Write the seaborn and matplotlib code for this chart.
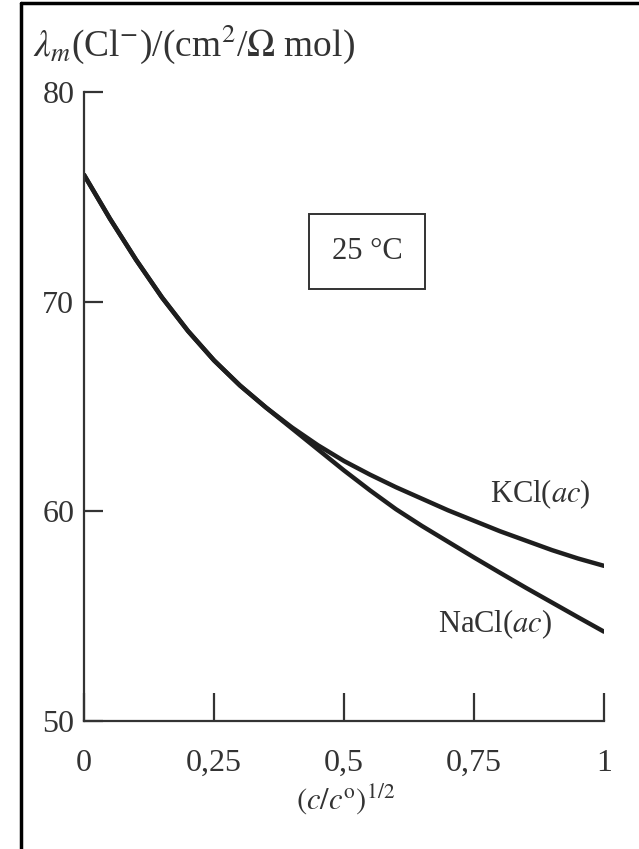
import numpy as np
import pandas as pd
import matplotlib
matplotlib.use("Agg")
import matplotlib.pyplot as plt
import seaborn as sns
from matplotlib.lines import Line2D

# values
conc_sqrt = [0.0, 0.05, 0.1, 0.15, 0.2, 0.25, 0.3, 0.35, 0.4, 0.45,
             0.5, 0.55, 0.6, 0.65, 0.7, 0.75, 0.8, 0.85, 0.9, 0.95, 1.0]
lambda_kcl = [76.05, 73.95, 72.0, 70.2, 68.6, 67.2, 66.0, 64.95, 64.0, 63.15,
              62.4, 61.75, 61.15, 60.6, 60.05, 59.55, 59.05, 58.6, 58.15, 57.75, 57.4]
lambda_nacl = [76.05, 73.95, 72.0, 70.2, 68.6, 67.2, 66.0, 64.95, 63.95, 62.95,
               61.95, 61.0, 60.1, 59.3, 58.55, 57.8, 57.07, 56.35, 55.65, 54.95, 54.26]
x_ticks = [0, 0.25, 0.5, 0.75, 1]
x_tick_labels = ["0", "0,25", "0,5", "0,75", "1"]
y_ticks = [50, 60, 70, 80]

df = pd.DataFrame({
    "x": conc_sqrt * 2,
    "lam": lambda_kcl + lambda_nacl,
    "sal": ["KCl"] * len(conc_sqrt) + ["NaCl"] * len(conc_sqrt),
})

sns.set_theme(style="white")
plt.rcParams["font.family"] = ["Liberation Serif", "DejaVu Serif"]
plt.rcParams["mathtext.fontset"] = "stix"

fig = plt.figure(figsize=(6.39, 8.49), dpi=100)
ax = fig.add_axes([0.1315, 0.1508, 0.8137, 0.7408])

sns.lineplot(data=df, x="x", y="lam", hue="sal", palette=["#1e1e1e", "#1e1e1e"],
             linewidth=3.2, legend=False, ax=ax)

ax.set_xlim(0, 1)
ax.set_ylim(50, 80)
ax.set_xticks(x_ticks)
ax.set_xticklabels(x_tick_labels)
ax.set_yticks(y_ticks)
ax.set_xlabel("")
ax.set_ylabel("")

for s in ["top", "right"]:
    ax.spines[s].set_visible(False)
for s in ["left", "bottom"]:
    ax.spines[s].set_color("#333333")
    ax.spines[s].set_linewidth(1.6)

ax.tick_params(axis="x", bottom=True, direction="in", length=20, width=1.6, color="#333333",
               labelsize=23, labelcolor="#333333", pad=20)
ax.tick_params(axis="y", left=True, direction="in", length=14, width=1.6, color="#333333",
               labelsize=23, labelcolor="#333333", pad=7)

fig.text(0.052, 0.948, r"$\lambda_m$(Cl$^{-}$)/(cm$^2$/$\Omega$ mol)",
         fontsize=27, color="#333333", va="center", ha="left")
fig.text(0.54, 0.058, r"$(c/c^{\mathrm{o}})^{1/2}$", fontsize=22,
         color="#333333", ha="center", va="center")

ax.text(0.544, 72.4, "25 °C", fontsize=22, color="#333333", ha="center", va="center",
        bbox=dict(boxstyle="square,pad=0.75", fc="none", ec="#333333", lw=1.4))
ax.text(0.877, 60.8, r"KCl($ac$)", fontsize=22, color="#333333", ha="center", va="center")
ax.text(0.79, 54.6, r"NaCl($ac$)", fontsize=22, color="#333333", ha="center", va="center")

# page border (left and top only)
fig.add_artist(Line2D([0.033, 0.033], [0, 0.996], color="black", lw=2.5,
                      transform=fig.transFigure))
fig.add_artist(Line2D([0.033, 1.0], [0.996, 0.996], color="black", lw=2.5,
                      transform=fig.transFigure))

fig.savefig("out.png", dpi=100)
